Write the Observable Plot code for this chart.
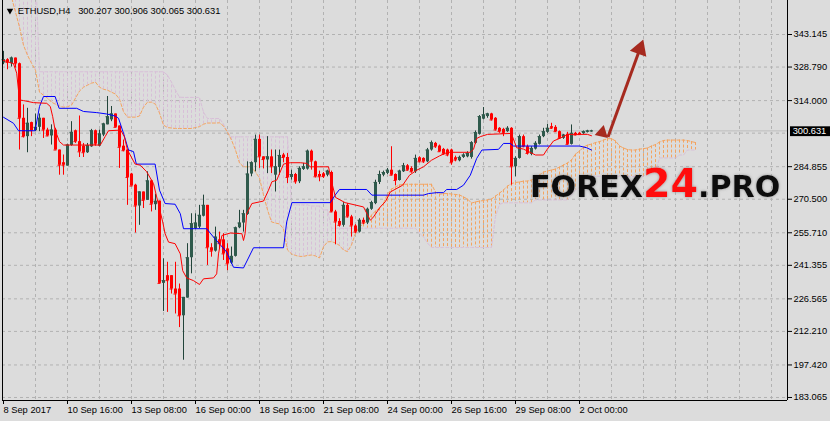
<!DOCTYPE html>
<html>
<head>
<meta charset="utf-8">
<script src="https://cdn.jsdelivr.net/npm/d3@7"></script>
<script src="https://cdn.jsdelivr.net/npm/@observablehq/plot@0.6"></script>
<style>
  html, body { margin: 0; padding: 0; background: #dcdcdc; }
  #chart svg { display: block; }
</style>
</head>
<body>
<div id="chart"></div>
<script>
// ---------- data ----------
const symbolName = "ETHUSD,H4";
const lastQuote = [300.207, 300.906, 300.065, 300.631]; // O H L C of the last bar

const tickBars = [0, 16, 32, 48, 64, 80, 96, 112, 128, 144];
const tickLabels = ["8 Sep 2017", "10 Sep 16:00", "13 Sep 08:00", "16 Sep 00:00", "18 Sep 16:00",
  "21 Sep 08:00", "24 Sep 00:00", "26 Sep 16:00", "29 Sep 08:00", "2 Oct 00:00"];
const priceTicks = [343.145, 328.790, 314.000, 284.855, 270.500, 255.710, 241.355, 226.565, 212.210, 197.420, 183.065];
const hiddenGridPrices = [299.645];

const opens = [
330.56,332.03,330.26,332.77,330.26,306.2,298.1,304.3,300.7,302.2,
306.2,301.0,298.4,301.0,292.2,286.6,285.1,294.2,300.7,295.9,
293.9,291.0,293.6,300.7,293.9,298.8,303.3,305.5,308.1,302.8,
293.9,292.2,281.6,276.7,267.5,273.7,270.0,278.6,268.1,269.7,
233.4,236.8,236.8,230.9,230.9,219.1,226.9,244.7,257.5,258.2,
263.0,267.8,249.1,247.6,252.6,252.6,248.6,242.3,245.3,257.9,
260.0,263.8,281.6,286.6,296.9,289.2,287.8,289.2,281.1,284.5,
290.0,288.9,280.1,281.4,278.2,283.63,283.78,291.7,287.0,281.4,
281.7,281.1,282.3,264.9,260.7,258.98,267.8,262.7,258.7,256.0,
261.2,260.0,266.06,268.57,277.9,281.1,281.9,283.3,281.4,278.75,
282.6,285.25,284.07,282.6,288.79,288.5,287.0,292.2,295.14,293.96,
292.48,292.2,292.2,288.79,287.46,288.94,289.2,288.94,295.14,299.12,
305.8,306.95,308.13,306.2,301.78,301.3,300.3,301.78,284.8,288.5,
298.1,293.66,290.27,292.6,294.7,298.1,300.0,302.5,302.2,300.3,
297.35,299.12,294.7,299.57,299.57,299.4,300.0,300.207];
const highs = [
335.72,332.48,333.2,332.77,330.56,312.1,310.6,304.5,308.1,308.1,
306.2,301.8,303.3,301.8,292.2,290.0,294.8,304.7,301.0,307.2,
295.1,295.1,301.3,301.0,301.0,304.0,315.8,311.4,308.1,302.8,
296.6,292.2,281.9,277.1,273.7,273.7,282.6,278.9,272.7,269.7,
244.2,242.7,236.8,242.7,233.1,227.2,250.9,264.1,264.1,267.8,
272.3,267.8,250.9,258.2,256.0,255.3,250.9,249.4,258.2,265.6,
265.6,287.0,287.0,298.8,298.8,289.2,298.1,292.2,292.2,292.2,
290.7,290.7,283.3,281.9,284.8,286.3,292.2,292.2,287.3,282.9,
282.3,283.3,282.9,265.6,261.9,269.0,268.57,263.4,259.3,261.9,
262.2,266.6,269.6,278.9,282.9,282.9,284.07,293.66,281.7,283.3,
286.3,285.8,284.8,289.97,289.2,288.79,292.9,296.17,295.58,294.4,
292.9,292.6,292.6,289.5,289.5,290.56,291.45,295.88,300.6,307.4,
310.93,308.4,308.4,306.5,302.07,301.78,302.5,302.07,289.2,298.8,
298.8,294.4,293.66,295.88,298.8,301.78,303.55,304.0,302.96,300.6,
299.12,300.0,303.26,300.0,300.0,300.6,300.9,300.906];
const lows = [
329.82,327.6,328.79,328.34,292.2,297.5,291.0,298.1,300.3,300.3,
297.3,298.1,294.4,292.2,281.1,281.1,285.1,293.9,295.1,288.9,
288.9,290.7,293.4,293.9,293.6,298.1,303.3,304.7,302.2,284.1,
291.4,267.8,276.3,255.6,259.0,266.4,270.0,264.9,265.6,233.4,
221.0,220.6,228.7,219.9,213.9,199.5,226.9,237.6,257.1,257.5,
262.7,241.3,244.95,247.2,248.6,243.5,239.0,241.7,245.0,257.5,
256.0,263.4,280.4,282.6,284.1,283.9,281.8,281.8,273.7,281.1,
286.6,277.4,278.9,277.1,277.4,283.2,283.33,283.33,279.9,278.2,
279.64,280.4,264.6,250.4,258.2,258.2,262.2,253.8,255.3,255.6,
259.3,259.3,265.6,268.1,276.99,280.4,281.4,280.8,276.4,278.5,
282.3,282.9,282.0,281.9,286.58,286.3,286.58,291.7,292.9,291.15,
289.97,289.2,285.5,287.0,287.0,288.5,288.79,288.2,294.7,298.8,
305.47,306.2,305.0,300.6,299.57,298.1,300.0,276.7,280.4,288.2,
293.2,289.97,289.68,292.2,294.4,297.65,299.57,301.3,300.0,296.9,
296.9,294.4,294.4,298.5,298.7,299.12,299.7,300.065];
const closes = [
332.03,330.85,332.77,330.26,306.2,298.1,304.0,300.7,302.2,306.2,
301.0,298.4,301.0,292.2,285.5,285.5,294.4,300.0,295.9,291.4,
291.0,294.2,300.7,294.8,299.3,303.7,306.9,308.1,302.2,293.4,
291.9,280.1,276.3,267.5,273.7,270.0,278.6,268.3,269.6,233.4,
234.6,234.6,230.9,228.7,219.1,227.2,244.7,259.7,260.0,263.4,
267.8,249.1,247.6,253.8,250.9,246.4,242.0,245.3,257.9,260.0,
264.1,281.6,286.6,296.9,289.2,288.0,289.2,284.8,284.8,289.8,
288.9,280.1,281.4,278.2,284.1,284.8,291.7,287.3,280.4,280.4,
280.5,282.9,264.9,260.45,258.98,267.8,262.7,258.7,256.0,261.2,
260.0,266.06,269.0,277.9,281.4,282.3,283.3,281.1,278.75,282.9,
285.25,283.3,282.6,288.5,287.0,287.0,292.2,295.43,293.66,291.45,
290.41,289.97,286.58,287.76,288.94,289.97,290.7,295.43,299.86,306.95,
307.7,308.13,305.47,301.04,300.3,299.57,301.78,284.8,288.5,298.1,
293.66,290.7,292.9,295.14,298.1,300.3,301.78,301.78,300.3,297.35,
298.8,294.7,299.57,298.8,298.98,300.3,300.6,300.631];

// Ichimoku Senkou spans, one value per bar (26 bars projected forward)
const spanA = [
369.3,364.9,359.6,353.0,346.4,338.4,334.0,330.5,327.4,317.7,
316.4,315.1,313.3,312.4,311.6,311.1,311.3,312.0,315.1,318.2,
319.9,320.8,321.7,322.1,319.9,319.0,318.6,317.7,316.9,314.6,
309.1,306.7,306.7,306.7,307.2,311.1,313.3,313.3,312.4,308.5,
303.2,302.1,301.9,301.7,301.7,301.7,301.7,301.7,302.1,302.5,
303.6,304.1,304.1,304.1,304.2,302.8,300.1,296.6,292.2,286.5,
284.8,284.8,284.7,282.5,279.8,272.4,265.8,260.5,260.0,259.6,
257.4,248.1,246.4,245.7,245.3,245.3,245.7,245.9,245.5,244.6,
249.5,251.7,251.8,251.2,250.1,248.1,247.4,250.3,255.6,258.3,
259.6,260.9,263.5,265.3,266.6,268.7,272.8,275.0,275.9,276.8,
277.1,277.1,277.1,277.1,277.1,277.1,277.1,277.1,273.7,272.7,
273.0,273.0,272.8,272.6,272.4,271.5,270.6,268.8,269.3,269.7,
269.9,270.2,270.6,271.9,273.2,274.6,276.3,277.4,277.9,278.1,
278.5,278.5,279.0,279.8,281.2,282.5,282.9,283.4,283.8,284.7,
285.6,286.5,287.8,290.4,291.7,293.5,294.4,294.8,295.5,295.9,
296.6,297.2,297.2,296.2,294.0,293.1,292.4,292.2,292.2,292.6,
292.8,293.1,294.0,294.6,295.7,296.4,296.6,296.6,296.6,296.6,
296.6,296.4,295.9,295.5];
const spanB = [
372,372,372,372,372,372,372,372,372,326.7,
326.7,326.7,326.7,326.7,326.7,326.7,326.7,326.7,326.7,326.7,
326.7,326.7,326.7,326.7,326.7,326.7,326.7,326.7,326.7,326.7,
326.7,326.7,326.7,326.7,326.7,326.7,326.7,326.7,326.7,326.7,
326.7,325.2,322.1,318.6,315.5,315.4,315.4,315.4,315.4,315.4,
308.9,306.1,306.1,306.1,306.1,303.6,300.1,298.0,298.0,298.0,
298.0,298.0,298.0,298.0,298.0,298.0,298.0,298.0,298.0,298.0,
298.0,298.0,268.0,268.0,268.0,268.0,268.0,267.5,267.5,267.5,
265.8,265.8,257.7,257.7,257.7,257.7,257.7,257.7,257.7,257.7,
257.7,257.7,257.7,257.7,257.7,257.7,257.7,257.7,257.7,257.7,
257.7,257.7,257.7,257.7,255.5,253.9,251.2,249.2,249.2,249.2,
249.2,249.2,249.2,249.2,249.2,249.2,249.2,249.2,249.2,249.2,
249.2,249.2,249.2,262.9,268.2,268.9,268.9,268.9,268.9,268.9,
268.9,268.9,268.9,270.2,270.2,270.2,270.2,270.2,270.2,270.2,
270.2,270.2,272.4,274.6,275.7,279.0,280.6,280.6,280.6,280.6,
280.6,280.6,280.6,280.6,280.6,280.6,280.6,280.6,280.6,280.6,
280.6,282.4,282.4,282.4,288.7,288.7,288.7,288.7,288.7,290.0,
290.0,292.2,292.2,292.2];

// Tenkan-sen (red) and Kijun-sen (blue): vertices
const tenkanBars = [0,2.5,3.3,4,5,7.5,10.8,11.7,12.3,12.9,14,15,24.2,25.4,26.25,29.3,30.2,31,32.9,34.2,35.8,37.5,38.3,39.8,40.4,41.25,42.9,44.2,44.8,45.8,47.5,49,50,52.5,53.3,53.75,54.6,56.7,59.6,60,60.4,60.8,62.1,65,66.25,67.1,68.3,70,71.7,74.2,75.8,76.7,81.25,82,83,85.4,90,91.7,92.5,94.2,95.5,96.7,99.8,101.5,103.3,105,107,109,111,116.7,117.5,118.3,119.2,121,126.7,127.1,128.3,130,133,135,135.8,137.5,139,141,146,147];
const tenkanVals = [331.7,330.3,326.1,314.3,314.0,313.1,312.8,311.4,306.9,301.0,295.9,294.4,294.4,298.1,300.7,301.0,298.1,292.2,286.0,285.5,282.6,277.4,271.5,260.5,255.3,251.6,250.9,246.4,239.0,235.8,234.6,232.9,235.4,235.8,237.6,246.4,254.5,255.6,255.3,252.3,255.3,264.1,268.6,269.7,274.5,278.2,278.9,286.0,286.6,286.6,286.3,284.8,284.8,278.4,271.3,269.0,267.1,261.2,262.7,267.1,269.5,273.7,276.7,281.1,283.3,284.8,287.7,289.6,291.2,291.2,292.5,297.3,298.1,299.1,299.5,298.8,293.2,292.6,290.0,290.0,292.2,296.2,297.3,299.1,299.1,298.5];
const kijunBars = [0,2.5,3.75,7.9,9,10,12.9,13.9,18.3,20,23.3,25.8,27.9,28.75,30,31.25,32.5,33.2,37.9,39,40.4,42.9,44.2,45,50.8,52.5,55.8,57.5,60,62.5,70,70.8,72.1,81.7,82.9,84,90.8,92.1,105,106.25,108.3,110,110.8,113.3,115,116.7,118.3,119.6,123.75,125,126.7,127.5,144,145.8,147];
const kijunVals = [306.65,304.0,300.7,300.7,311.4,315.8,315.8,310.6,310.6,309.2,308.7,308.1,307.2,306.2,299.6,292.2,291.5,286.0,286.0,274.5,268.6,268.3,264.1,257.5,257.5,253.8,247.2,240.5,240.2,249.1,249.1,260.5,269.0,269.0,272.3,274.8,274.8,272.3,272.3,273.0,273.4,273.4,274.8,274.8,276.7,281.1,288.5,292.2,292.5,295.1,295.1,293.96,293.96,293.2,292.2];

// hand-drawn forecast arrow (bar index, price)
const arrowShaft = [{x1: 151.125, y1: 297.9, x2: 159.25, y2: 337.5}];
const arrowHeadUp = [{x: 159.08, y: 336.7}];
const arrowHeadDown = [{x: 149.65, y: 299.85}];

// watermark pieces
const watermarkParts = [
  {t: "FOREX", size: 30.1, fill: "#0b0b0b"},
  {t: "24", size: 39.5, fill: "#ff1010"},
  {t: ".PRO", size: 30.1, fill: "#0b0b0b"}
];

// ---------- build ----------
const candles = opens.map((o, i) => ({i, o, h: highs[i], l: lows[i], c: closes[i], up: closes[i] >= o}));
const cloud = spanA.map((a, i) => ({i, a, b: spanB[i]}));
const tenkan = tenkanBars.map((x, j) => ({x, y: tenkanVals[j]}));
const kijun = kijunBars.map((x, j) => ({x, y: kijunVals[j]}));

const BG = "#dcdcdc", GRID = "#b2b2b2", BULL = "#2f5a4c", BULL_WICK = "#22443a", BEAR = "#ff0000";
const SPAN_A = "#f4a460", SPAN_B = "#d8bfd8", ARROW = "#a62a1f";
const FONT = "'Liberation Sans', Arial, sans-serif";
const fmt3 = d3.format(".3f");

const chart = Plot.plot({
  width: 830, height: 421,
  marginLeft: 2, marginRight: 43, marginTop: 0, marginBottom: 21,
  style: {background: BG, fontFamily: FONT, fontSize: "9.3px", color: "#000", overflow: "visible"},
  x: {type: "linear", domain: [-0.25, 196], axis: null},
  y: {type: "linear", domain: [181.742, 358.139], axis: null},
  marks: [
    Plot.ruleX(d3.range(8, 196, 8), {stroke: GRID, strokeDasharray: "3,3"}),
    Plot.ruleY(priceTicks.concat(hiddenGridPrices), {stroke: GRID, strokeDasharray: "3,3"}),
    Plot.ruleY([lastQuote[3]], {stroke: "#bcbcbc"}),
    // Kumo hatch + span lines
    Plot.ruleX(cloud, {x: "i", y1: "a", y2: "b", stroke: d => d.a >= d.b ? SPAN_A : SPAN_B, strokeDasharray: "3,2", clip: true}),
    Plot.line(cloud, {x: "i", y: "b", stroke: SPAN_B, strokeWidth: 1, strokeDasharray: "3,2", clip: true}),
    Plot.line(cloud, {x: "i", y: "a", stroke: SPAN_A, strokeWidth: 1, strokeDasharray: "3,2", clip: true}),
    // candles
    Plot.ruleX(candles, {x: "i", y1: "l", y2: "h", stroke: d => d.up ? BULL_WICK : BEAR}),
    Plot.ruleX(candles, {x: "i", y1: "o", y2: "c", stroke: d => d.up ? BULL : BEAR, strokeWidth: 3}),
    Plot.ruleY(candles, {y: "c", x1: d => d.i - 0.375, x2: d => d.i + 0.375, stroke: d => d.up ? BULL : BEAR}),
    // Kijun / Tenkan
    Plot.line(kijun, {x: "x", y: "y", stroke: "#0000ff", strokeWidth: 1}),
    Plot.line(tenkan, {x: "x", y: "y", stroke: "#ff0000", strokeWidth: 1}),
    // arrow
    Plot.link(arrowShaft, {x1: "x1", y1: "y1", x2: "x2", y2: "y2", stroke: ARROW, strokeWidth: 3}),
    Plot.dot(arrowHeadUp, {x: "x", y: "y", symbol: "triangle", r: 6.5, rotate: 20, fill: ARROW, stroke: null}),
    Plot.dot(arrowHeadDown, {x: "x", y: "y", symbol: "triangle", r: 5, rotate: 132, fill: ARROW, stroke: null}),
    // axes
    Plot.axisY(priceTicks, {anchor: "right", tickSize: 4, tickPadding: 2, tickFormat: fmt3, fontSize: 9.3}),
    Plot.axisX(tickBars, {anchor: "bottom", tickSize: 4, tickPadding: 1.5, textAnchor: "start",
      tickFormat: d => tickLabels[tickBars.indexOf(d)], fontSize: 9.3}),
    Plot.ruleX([-0.25, 196], {stroke: "#000"}),
    Plot.ruleY([181.742], {stroke: "#000"}),
    // header
    Plot.dot([0], {frameAnchor: "top-left", dx: 7.5, dy: 10.2, symbol: "triangle", rotate: 180, r: 2.4, fill: "#000", stroke: null}),
    Plot.text([symbolName], {frameAnchor: "top-left", dx: 15.3, dy: 6.5, textAnchor: "start", lineAnchor: "top", fontSize: 9.3, fill: "#000"}),
    Plot.text([lastQuote.map(fmt3).join(" ")], {frameAnchor: "top-left", dx: 75.7, dy: 6.5, textAnchor: "start", lineAnchor: "top", fontSize: 9.3, fill: "#000"})
  ]
});

document.getElementById("chart").appendChild(chart);

// current price label on the price scale
const svg = d3.select(chart);
const py = chart.scale("y").apply(lastQuote[3]) + 0.5;
svg.append("rect").attr("x", 790).attr("y", py - 4.6).attr("width", 40).attr("height", 9.8).attr("fill", "#000");
svg.append("text").attr("x", 792.7).attr("y", py + 3.3).attr("fill", "#fff").attr("text-anchor", "start")
  .style("font", `9.3px ${FONT}`).text(fmt3(lastQuote[3]));

// watermark (single text element with coloured runs)
const defs = svg.append("defs");
const flt = defs.append("filter").attr("id", "wmShadow").attr("x", "-10%").attr("y", "-40%").attr("width", "120%").attr("height", "180%");
flt.append("feGaussianBlur").attr("in", "SourceAlpha").attr("stdDeviation", 1.6).attr("result", "blur");
flt.append("feFlood").attr("flood-color", "#8a8a8a").attr("flood-opacity", 0.85).attr("result", "col");
flt.append("feComposite").attr("in", "col").attr("in2", "blur").attr("operator", "in").attr("result", "shadow");
const mrg = flt.append("feMerge");
mrg.append("feMergeNode").attr("in", "shadow");
mrg.append("feMergeNode").attr("in", "SourceGraphic");
const wmText = svg.append("text").attr("filter", "url(#wmShadow)")
  .attr("x", 530).attr("y", 196.7).attr("text-anchor", "start")
  .attr("font-family", "'DejaVu Sans', 'Liberation Sans', sans-serif").attr("font-weight", "bold");
watermarkParts.forEach(p => {
  wmText.append("tspan").attr("font-size", p.size).attr("fill", p.fill).text(p.t);
});
</script>
</body>
</html>
